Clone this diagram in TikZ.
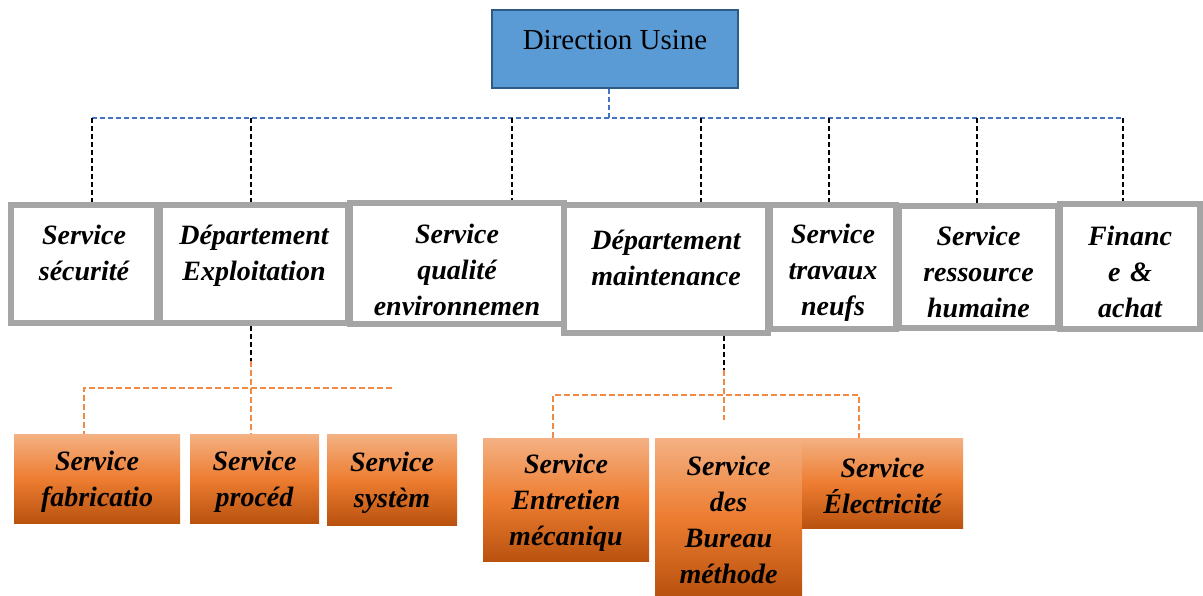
\documentclass[tikz,border=0pt]{standalone}
\usepackage{fontspec}
\setmainfont{Liberation Serif}
\usetikzlibrary{positioning}
\definecolor{dirblue}{HTML}{5B9BD5}
\definecolor{dirline}{HTML}{2E5A88}
\definecolor{boxgray}{HTML}{A5A5A5}
\definecolor{buslink}{HTML}{4472C4}
\definecolor{orlight}{HTML}{F4B183}
\definecolor{ormid}{HTML}{ED7D31}
\definecolor{ordark}{HTML}{B9520F}
\definecolor{orlink}{HTML}{F08A45}
\tikzset{
  direc/.style={
    % The top box
    rectangle,draw=dirline,line width=1pt,fill=dirblue,
    font=\fontsize{14.5}{17}\selectfont,
    text height=5pt,text depth=5pt},
  serv/.style={
    % Grey boxes of the first level
    rectangle,draw=boxgray,line width=3pt,
    align=center,inner xsep=2pt,
    font=\fontsize{14}{18}\selectfont\bfseries\itshape,
    text height=0pt,text depth=20pt},
  subserv/.style={
    % Orange boxes of the second level
    rectangle,top color=orlight,bottom color=ordark,middle color=ormid,
    align=center,inner xsep=2pt,
    font=\fontsize{14}{18}\selectfont\bfseries\itshape,
    text height=13pt},
  bus/.style={buslink,line width=0.8pt,dash pattern=on 2.5pt off 1.5pt},
  drop/.style={black,line width=1pt,dash pattern=on 2.5pt off 1.5pt},
  sublink/.style={orlink,line width=1pt,dash pattern=on 3pt off 1.5pt}}

\begin{document}
\begin{tikzpicture}[x=0.5pt,y=-0.5pt]
	\useasboundingbox (0,0) rectangle (1203,595);
	\node[direc,minimum width=123pt,minimum height=39pt] (dir) at (615,49) {Direction Usine};
	% First level
	\node[serv,minimum width=73pt,minimum height=59pt,text width=66pt] (secu) at (84,264) {Service\\sécurité};
	\node[serv,minimum width=94pt,minimum height=59pt,text width=88pt] (expl) at (254,264) {Département\\Exploitation};
	\node[serv,minimum width=107pt,minimum height=60.5pt,text width=100pt] (qual) at (457,263.5) {Service\\qualité\\environnemen};
	\node[serv,minimum width=102pt,minimum height=64pt,text width=96pt] (maint) at (666,269) {Département\\maintenance};
	\node[serv,minimum width=63pt,minimum height=62pt,text width=57pt,text depth=24pt] (trav) at (833,267) {Service\\travaux\\neufs};
	\node[serv,minimum width=79.5pt,minimum height=61pt,text width=73pt,text depth=22pt] (rh) at (978.5,267) {Service\\ressource\\humaine};
	\node[serv,minimum width=70pt,minimum height=62.5pt,text width=64pt,text depth=21pt] (fin) at (1130,266.5) {Financ\\e \&\\achat};
	% Second level, exploitation
	\node[subserv,minimum width=83pt,minimum height=44.5pt,text width=78pt] (fab) at (97,478.5) {Service\\fabricatio};
	\node[subserv,minimum width=64.5pt,minimum height=44.5pt,text width=60pt] (proc) at (254.5,478.5) {Service\\procéd};
	\node[subserv,minimum width=65pt,minimum height=45.5pt,text width=60pt] (sys) at (392,479.5) {Service\\systèm};
	% Second level, maintenance
	\node[subserv,minimum width=83pt,minimum height=61.5pt,text width=78pt] (ent) at (566,499.5) {Service\\Entretien\\mécaniqu};
	\node[subserv,minimum width=73.5pt,minimum height=78.5pt,text width=68pt] (bur) at (728.5,516.5) {Service\\des\\Bureau\\méthode};
	\node[subserv,minimum width=80.5pt,minimum height=45pt,text width=76pt] (elec) at (882.5,483) {Service\\Électricité};
	% Bus under the direction
	\coordinate (bus) at (609,118);
	\coordinate (b1) at (92,118);
	\coordinate (b2) at (251,118);
	\coordinate (b3) at (512,118);
	\coordinate (b4) at (701,118);
	\coordinate (b5) at (829,118);
	\coordinate (b6) at (977,118);
	\coordinate (b7) at (1123,118);
	\draw[bus] (bus |- dir.south) -- (bus);
	\draw[bus] (b1) -- (b7);
	\draw[drop] (b1) -- (b1 |- secu.north);
	\draw[drop] (b2) -- (b2 |- expl.north);
	\draw[drop] (b3) -- (b3 |- qual.north);
	\draw[drop] (b4) -- (b4 |- maint.north);
	\draw[drop] (b5) -- (b5 |- trav.north);
	\draw[drop] (b6) -- (b6 |- rh.north);
	\draw[drop] (b7) -- (b7 |- fin.north);
	% Lines out of expl
	\coordinate (e1) at (251,361);
	\coordinate (e2) at (84,388);
	\coordinate (e3) at (392,388);
	\draw[drop] (e1 |- expl.south) -- (e1);
	\draw[sublink] (e1) -- (e1 |- proc.north);
	\draw[sublink] (e3) -- (e2) -- (e2 |- fab.north);
	% Lines out of maint
	\coordinate (m1) at (724,370);
	\coordinate (m2) at (553,395);
	\coordinate (m3) at (859,395);
	\coordinate (m4) at (724,420);
	\draw[drop] (m1 |- maint.south) -- (m1);
	\draw[sublink] (m1) -- (m4);
	\draw[sublink] (ent.north -| m2) -- (m2) -- (m3) -- (m3 |- elec.north);
\end{tikzpicture}
\end{document}
